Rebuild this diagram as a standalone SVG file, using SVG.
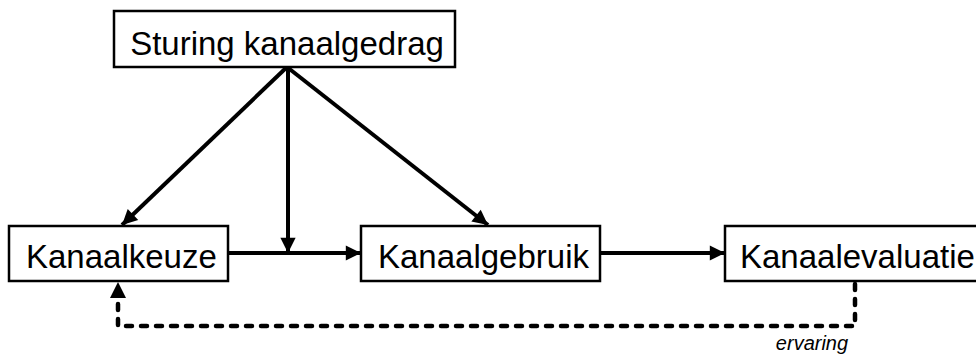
<svg xmlns="http://www.w3.org/2000/svg" width="976" height="356" viewBox="0 0 976 356">
<style>
.box{fill:#fff;stroke:#000;stroke-width:2.5}
.lbl{font-family:"Liberation Sans",Arial,sans-serif;font-size:33px;fill:#000}
.con{fill:none;stroke:#000;stroke-width:4}
.dash{fill:none;stroke:#000;stroke-width:4.5;stroke-dasharray:6 9;stroke-linecap:round;stroke-linejoin:round}
.note{font-family:"Liberation Sans",Arial,sans-serif;font-size:20px;font-style:italic;fill:#000}
</style>
<defs>
<marker id="ah" viewBox="0 0 10 10" refX="10" refY="5" markerWidth="4.3" markerHeight="3.8" markerUnits="strokeWidth" orient="auto">
<path d="M0,0 L10,5 L0,10 z" fill="#000"/>
</marker>
</defs>
<rect x="0" y="0" width="976" height="356" fill="#fff"/>
<g id="connectors">
<line class="con" x1="287" y1="67" x2="122" y2="225" marker-end="url(#ah)"/>
<line class="con" x1="287" y1="67" x2="488" y2="225" marker-end="url(#ah)"/>
<line class="con" x1="288" y1="67" x2="288" y2="253" marker-end="url(#ah)"/>
<line class="con" x1="228" y1="253" x2="361" y2="253" marker-end="url(#ah)"/>
<line class="con" x1="600" y1="253" x2="725" y2="253" marker-end="url(#ah)"/>
<polyline class="dash" points="855,284 855,326 118,326 118,298"/>
<path d="M118,282 L110,298 L126,298 z" fill="#000"/>
<text class="note" x="812" y="350" text-anchor="middle">ervaring</text>
</g>
<g id="sturing">
<rect class="box" x="114" y="11" width="341" height="56"/>
<text class="lbl" x="287" y="55" text-anchor="middle">Sturing kanaalgedrag</text>
</g>
<g id="kanaalkeuze">
<rect class="box" x="9" y="226" width="219" height="55"/>
<text class="lbl" x="26" y="268">Kanaalkeuze</text>
</g>
<g id="kanaalgebruik">
<rect class="box" x="361" y="226" width="239" height="55"/>
<text class="lbl" x="378" y="268">Kanaalgebruik</text>
</g>
<g id="kanaalevaluatie">
<rect class="box" x="725" y="226" width="260" height="55"/>
<text class="lbl" x="740" y="268">Kanaalevaluatie</text>
</g>
</svg>
